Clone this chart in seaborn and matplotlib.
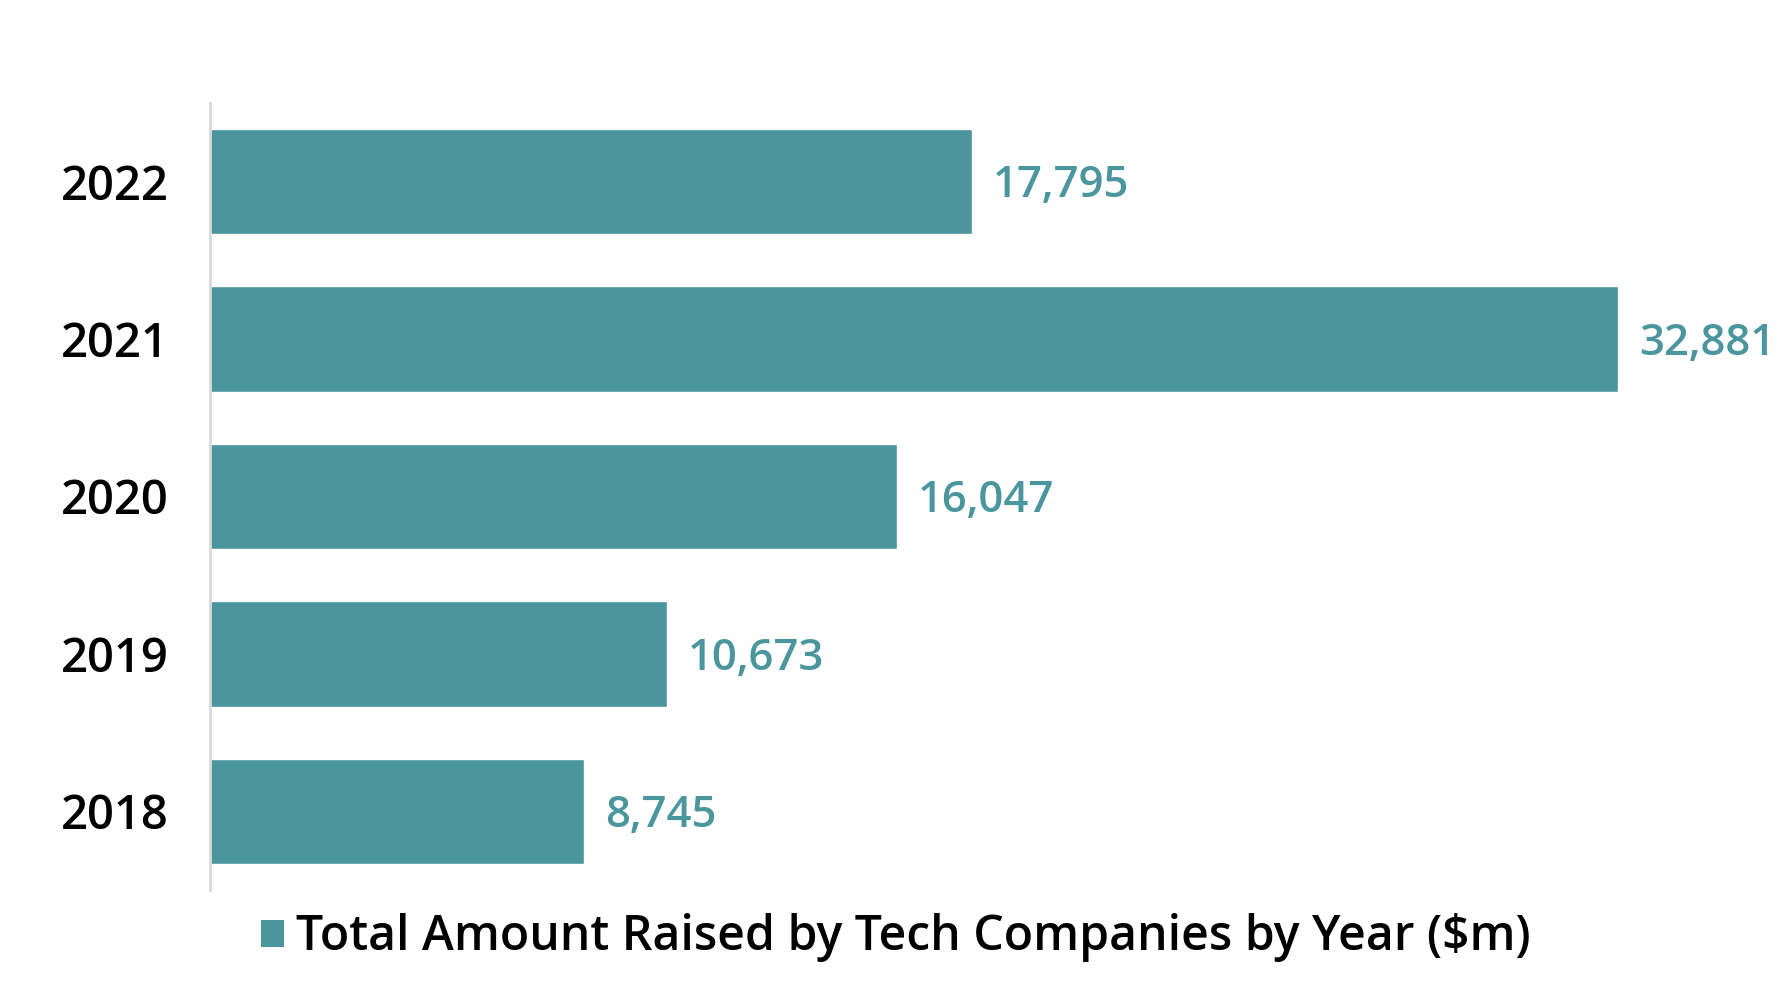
import matplotlib
matplotlib.use("Agg")
import matplotlib.pyplot as plt
import seaborn as sns
import pandas as pd
from matplotlib.patches import Patch

years = ["2022", "2021", "2020", "2019", "2018"]
amounts = [17795, 32881, 16047, 10673, 8745]
series_label = "Total Amount Raised by Tech Companies by Year ($m)"

teal = "#4A959E"
sns.set_theme(style="white")
plt.rcParams['font.family'] = ['Open Sans', 'DejaVu Sans']

df = pd.DataFrame({"year": years, "amount": amounts})

fig = plt.figure(figsize=(17.77, 10), dpi=100)
ax = fig.add_axes([210/1777, 110/1000, (1777-210)/1777, 787/1000])
sns.barplot(data=df, x="amount", y="year", order=years, orient="h",
            color=teal, saturation=1, width=0.67, ax=ax)

ax.set_xlim(0, 36595)
ax.set_ylim(4.5, -0.5)
for s in ["top", "right", "bottom"]:
    ax.spines[s].set_visible(False)
ax.spines["left"].set_color("#d9d9d9")
ax.spines["left"].set_linewidth(2)
ax.set_xticks([])
ax.set_xlabel("")
ax.set_ylabel("")
ax.tick_params(axis="y", length=0, pad=30)
for lab in ax.get_yticklabels():
    lab.set_fontsize(34)
    lab.set_fontweight("semibold")
    lab.set_color("black")

for i, v in enumerate(amounts):
    ax.annotate(f"{v:,}", xy=(v, i), xytext=(15, -3), textcoords="offset points",
                ha="left", va="center", fontsize=31.5, fontweight="semibold",
                color=teal, annotation_clip=False)

handle = Patch(facecolor=teal, edgecolor="none")
leg = fig.legend([handle], [series_label], loc="center", bbox_to_anchor=(0.504, 0.062),
                 frameon=False, handlelength=0.48, handleheight=0.48,
                 handletextpad=0.25, prop={"weight": "semibold", "size": 34.7})
for t in leg.get_texts():
    t.set_color("black")

fig.savefig("out.png", dpi=100, facecolor="white")
